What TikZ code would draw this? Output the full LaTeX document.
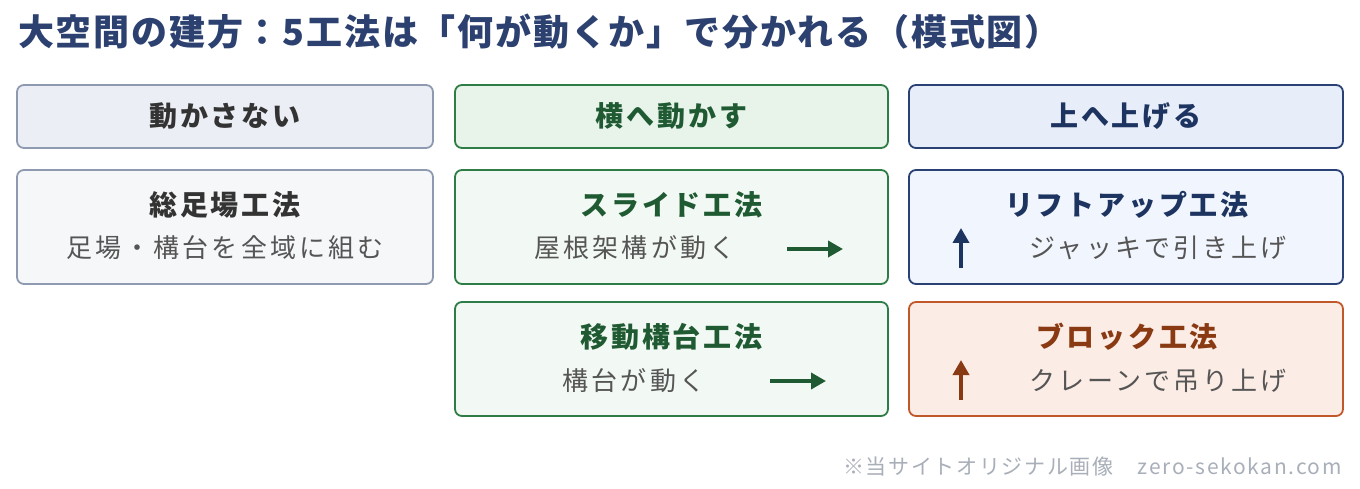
\documentclass[tikz,border=0pt]{standalone}
\usepackage{fontspec}
\setmainfont{Noto Sans CJK JP}
\usetikzlibrary{arrows.meta}
\definecolor{ttlc}{HTML}{2C4170}
\definecolor{gbd}{HTML}{8E9AB0}
\definecolor{ghf}{HTML}{EBEEF4}
\definecolor{gcf}{HTML}{F6F7F9}
\definecolor{gtx}{HTML}{333333}
\definecolor{stx}{HTML}{555555}
\definecolor{nbd}{HTML}{2E7D46}
\definecolor{nhf}{HTML}{E8F3EA}
\definecolor{ncf}{HTML}{F2F8F3}
\definecolor{ntx}{HTML}{1F5A32}
\definecolor{bbd}{HTML}{2A4175}
\definecolor{bhf}{HTML}{E8EEF9}
\definecolor{bcf}{HTML}{F1F5FD}
\definecolor{btx}{HTML}{1D3461}
\definecolor{obd}{HTML}{C0582A}
\definecolor{ocf}{HTML}{FCECE6}
\definecolor{otx}{HTML}{8A3A12}
\definecolor{ftx}{HTML}{A9AFB9}
\tikzset{
  box/.style={draw, line width=1.8pt, rounded corners=7pt, minimum width=#1, inner sep=0pt, outer sep=0pt},
  hbox/.style={box=#1, minimum height=63pt},
  cbox/.style={box=#1, minimum height=114pt},
  ttl/.style={font=\fontsize{36}{42}\selectfont\bfseries\addfontfeature{LetterSpace=5}, text=ttlc, inner sep=0pt, anchor=base west},
  htx/.style={font=\fontsize{28}{32}\selectfont\bfseries\addfontfeature{LetterSpace=10}, inner sep=0pt, anchor=base},
  ctt/.style={font=\fontsize{28}{32}\selectfont\bfseries\addfontfeature{LetterSpace=10}, inner sep=0pt, anchor=base},
  sub/.style={font=\fontsize{26}{30}\selectfont\addfontfeature{LetterSpace=12}, text=stx, inner sep=0pt, anchor=base},
  ftr/.style={font=\fontsize{21}{24}\selectfont\addfontfeature{LetterSpace=8}, text=ftx, inner sep=0pt, anchor=base east},
  harr/.style={line width=3.6pt, -{Triangle[length=15pt,width=16pt]}},
}
\begin{document}
\begin{tikzpicture}[x=1pt, y=-1pt]
\useasboundingbox (0,0) rectangle (1360,489);
\fill[white] (0,0) rectangle (1360,489);
\node[ttl] (title) at (18,46) {大空間の建方：5工法は「何が動くか」で分かれる（模式図）};
% column 1
\node[hbox=416pt, fill=ghf, draw=gbd] (h1) at (225,116.5) {};
\node[htx, text=gtx] (h1t) at (225,127) {動かさない};
\node[cbox=416pt, fill=gcf, draw=gbd] (c1) at (225,227) {};
\node[ctt, text=gtx] (c1t) at (225,215) {総足場工法};
\node[sub] (c1s) at (225,258) {足場・構台を全域に組む};
% column 2
\node[hbox=433pt, fill=nhf, draw=nbd] (h2) at (671.5,116.5) {};
\node[htx, text=ntx] (h2t) at (671.5,127) {横へ動かす};
\node[cbox=433pt, fill=ncf, draw=nbd] (c2) at (671.5,227) {};
\node[ctt, text=ntx] (c2t) at (671.5,215) {スライド工法};
\node[sub] (c2s) at (635,258) {屋根架構が動く};
\coordinate (a2s) at (787,249);
\coordinate (a2e) at (843,249);
\draw[harr, draw=ntx, fill=ntx] (a2s) -- (a2e);
\node[cbox=433pt, fill=ncf, draw=nbd] (c3) at (671.5,359) {};
\node[ctt, text=ntx] (c3t) at (671.5,347) {移動構台工法};
\node[sub] (c3s) at (634,390) {構台が動く};
\coordinate (a3s) at (770,381);
\coordinate (a3e) at (826,381);
\draw[harr, draw=ntx, fill=ntx] (a3s) -- (a3e);
% column 3
\node[hbox=434pt, fill=bhf, draw=bbd] (h3) at (1126,116.5) {};
\node[htx, text=btx] (h3t) at (1126,127) {上へ上げる};
\node[cbox=434pt, fill=bcf, draw=bbd] (c4) at (1126,227) {};
\node[ctt, text=btx] (c4t) at (1127,215) {リフトアップ工法};
\node[sub] (c4s) at (1158,258) {ジャッキで引き上げ};
\coordinate (a4s) at (961,268);
\coordinate (a4e) at (961,228);
\draw[harr, draw=btx, fill=btx] (a4s) -- (a4e);
\node[cbox=434pt, fill=ocf, draw=obd] (c5) at (1126,359) {};
\node[ctt, text=otx] (c5t) at (1127,347) {ブロック工法};
\node[sub] (c5s) at (1158,390) {クレーンで吊り上げ};
\coordinate (a5s) at (961,400);
\coordinate (a5e) at (961,360);
\draw[harr, draw=otx, fill=otx] (a5s) -- (a5e);
% footer
\node[ftr] (foot) at (1342,474) {※当サイトオリジナル画像　zero-sekokan.com};
\end{tikzpicture}
\end{document}
